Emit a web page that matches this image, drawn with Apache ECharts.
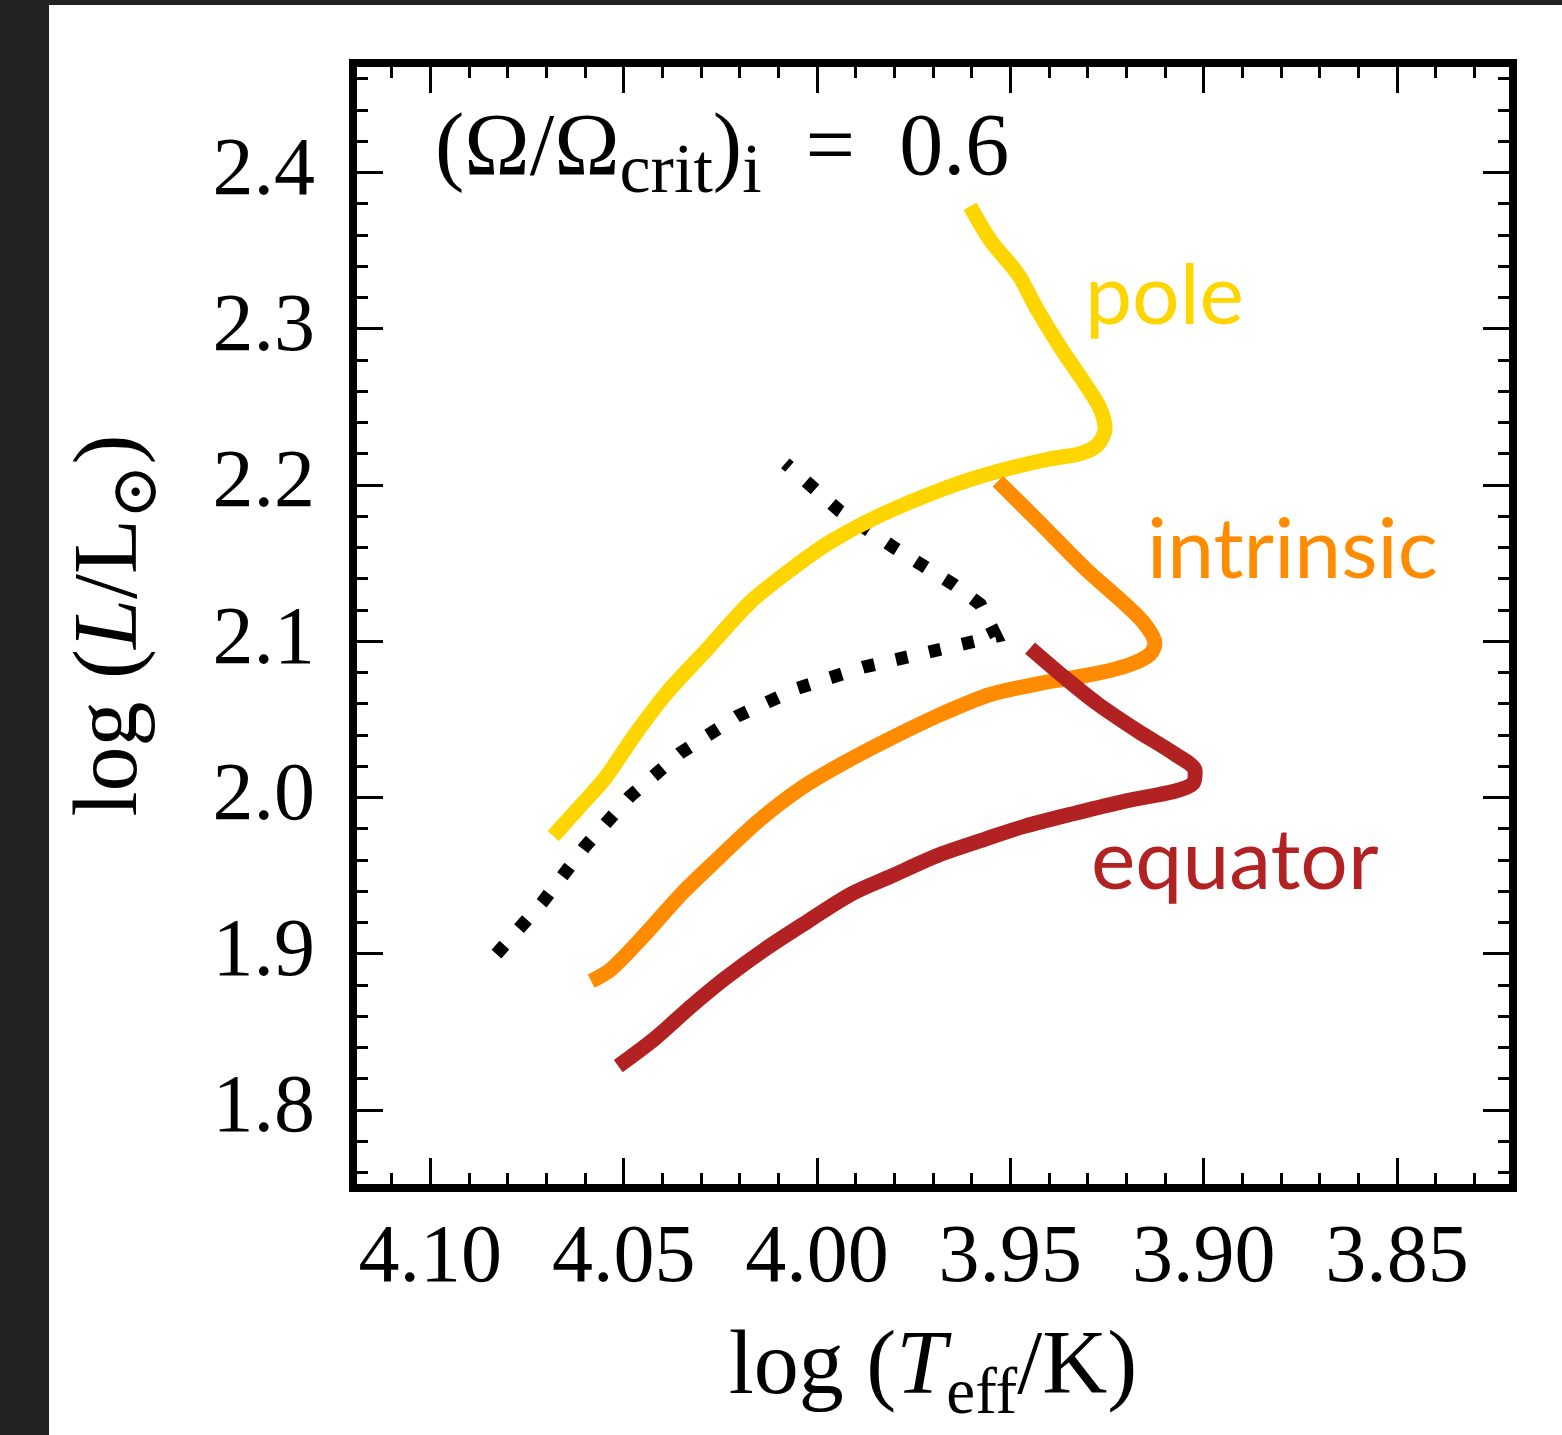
<!DOCTYPE html>
<html>
<head>
<meta charset="utf-8">
<title>HRD gravity darkening</title>
<script src="https://cdn.jsdelivr.net/npm/echarts@6.0.0/dist/echarts.min.js"></script>
<style>
  html, body { margin: 0; padding: 0; background: #222222; }
  #main { position: absolute; left: 49px; top: 5px; width: 1513px; height: 1430px; background: #ffffff; }
</style>
</head>
<body>
<div id="main"></div>
<script>
// tracks: [log Teff, log L]
var poleTrack = [
  [4.0682, 1.9752], [4.0617, 1.9931], [4.0548, 2.0123], [4.0470, 2.0404], [4.0385, 2.0679],
  [4.0289, 2.0935], [4.0170, 2.1255], [4.0056, 2.1479], [3.9963, 2.1639], [3.9842, 2.1799],
  [3.9669, 2.1978], [3.9532, 2.2087], [3.9402, 2.2164], [3.9317, 2.2202], [3.9273, 2.2260],
  [3.9255, 2.2362], [3.9268, 2.2490], [3.9299, 2.2618], [3.9369, 2.2874], [3.9428, 2.3111],
  [3.9480, 2.3347], [3.9550, 2.3559], [3.9604, 2.3782]
]
var intrinsicTrack = [
  [4.0584, 1.8824], [4.0532, 1.8901], [4.0444, 1.9125], [4.0351, 1.9381], [4.0263, 1.9592],
  [4.0152, 1.9848], [4.0041, 2.0059], [3.9937, 2.0212], [3.9808, 2.0379], [3.9679, 2.0532],
  [3.9550, 2.0660], [3.9420, 2.0731], [3.9273, 2.0795], [3.9188, 2.0852], [3.9139, 2.0916],
  [3.9126, 2.0987], [3.9152, 2.1108], [3.9203, 2.1236], [3.9307, 2.1466], [3.9420, 2.1748],
  [3.9532, 2.2023]
]
var equatorTrack = [
  [4.0514, 1.8280], [4.0418, 1.8459], [4.0325, 1.8664], [4.0237, 1.8843], [4.0134, 1.9029],
  [4.0023, 1.9208], [3.9912, 1.9381], [3.9808, 1.9496], [3.9679, 1.9637], [3.9565, 1.9733],
  [3.9462, 1.9816], [3.9332, 1.9899], [3.9203, 1.9976], [3.9074, 2.0040], [3.9027, 2.0091],
  [3.9022, 2.0168], [3.9074, 2.0276], [3.9170, 2.0424], [3.9273, 2.0596], [3.9358, 2.0763],
  [3.9449, 2.0955]
]
// dotted line (kink at the TAMS-like corner)
var dottedTrack = [
  [4.0829, 1.8997], [4.0710, 1.9329], [4.0599, 1.9688], [4.0483, 2.0008], [4.0354, 2.0283],
  [4.0206, 2.0520], [4.0049, 2.0699], [3.9881, 2.0833], [3.9713, 2.0929], [3.9537, 2.1031],
  [3.9578, 2.1236], [3.9648, 2.1364], [3.9798, 2.1594], [3.9940, 2.1831], [4.0082, 2.2138]
]

var trackNames = ['pole', 'intrinsic', 'equator']
var trackColors = ['#FFD500', '#FF8C00', '#B22222']

var xRange = [3.82, 4.12]
var yRange = [1.75, 2.47]

var serif = "'Liberation Serif', 'DejaVu Serif', serif"
var sans = "Lato, 'Open Sans', sans-serif"

// n = upright, i = italic, s = subscript (main tokens get bottom padding so the subscript sits lower)
function richStyles (size, subScale) {
  var lift = [0, 0, 14, 0]
  return {
    n: { fontFamily: serif, fontSize: size, padding: lift, verticalAlign: 'bottom', color: '#000' },
    i: { fontFamily: serif, fontSize: size, fontStyle: 'italic', padding: lift, verticalAlign: 'bottom', color: '#000' },
    s: { fontFamily: serif, fontSize: Math.round(size * (subScale || 0.72)), verticalAlign: 'bottom', color: '#000' }
  }
}

var tickStyle = { color: '#000', width: 3 }

function makeAxis (pos, range, split, extra) {
  var ax = {
    type: 'value',
    position: pos,
    min: range[0],
    max: range[1],
    splitNumber: split,
    axisLine: { show: false },
    axisTick: { show: true, inside: true, length: 30, lineStyle: tickStyle },
    minorTick: { show: true, splitNumber: 5, length: 15, lineStyle: tickStyle },
    splitLine: { show: false },
    minorSplitLine: { show: false },
    axisLabel: { show: false }
  }
  for (var k in extra) ax[k] = extra[k]
  return ax
}

var myChart = echarts.init(document.getElementById('main'))

var series = [{
  name: 'dotted',
  type: 'line',
  data: dottedTrack,
  showSymbol: false,
  z: 2,
  lineStyle: { color: '#000', width: 13, type: [12, 22], cap: 'butt', join: 'miter' }
}]
var tracks = [poleTrack, intrinsicTrack, equatorTrack]
for (var i = 0; i < tracks.length; i++) {
  series.push({
    name: trackNames[i],
    type: 'line',
    data: tracks[i],
    showSymbol: false,
    smooth: 0.3,
    z: 3 + i,
    lineStyle: { color: trackColors[i], width: 15 }
  })
}

var options = {
  animation: false,
  backgroundColor: '#fff',
  grid: {
    left: 304, top: 58, width: 1160, height: 1125,
    show: true, borderColor: '#000', borderWidth: 8, backgroundColor: 'transparent'
  },
  xAxis: [
    makeAxis('bottom', xRange, 6, {
      inverse: true,
      axisLabel: {
        show: true, margin: 30, color: '#000', fontFamily: serif, fontSize: 82,
        showMinLabel: false, showMaxLabel: false,
        formatter: function (v) { return v.toFixed(2) }
      },
      name: '{n|log (}{i|T}{s|eff}{n|/K)}',
      nameLocation: 'middle',
      nameGap: 136,
      nameTextStyle: { rich: richStyles(90) }
    }),
    makeAxis('top', xRange, 6, { inverse: true })
  ],
  yAxis: [
    makeAxis('left', yRange, 7, {
      axisLabel: {
        show: true, margin: 38, color: '#000', fontFamily: serif, fontSize: 82,
        showMinLabel: false, showMaxLabel: false,
        formatter: function (v) { return v.toFixed(1) }
      },
      name: '{n|log (}{i|L}{n|/L}{s|\u2299}{n|)}',
      nameLocation: 'middle',
      nameGap: 182,
      nameTextStyle: { rich: richStyles(90) }
    }),
    makeAxis('right', yRange, 7, {})
  ],
  graphic: [
    {
      type: 'text', left: 386, top: 102, z: 10,
      style: { text: '{n|(\u03A9/\u03A9}{s|crit}{n|)}{s|i}{n|\u2002=\u20020.6}', rich: richStyles(88, 0.8) }
    },
    { type: 'text', left: 1036, top: 250, z: 10, style: { text: trackNames[0], fill: trackColors[0], font: '84px ' + sans } },
    { type: 'text', left: 1098, top: 504, z: 10, style: { text: trackNames[1], fill: trackColors[1], font: '84px ' + sans } },
    { type: 'text', left: 1042, top: 815, z: 10, style: { text: trackNames[2], fill: trackColors[2], font: '84px ' + sans } }
  ],
  series: series
}

myChart.setOption(options)
</script>
</body>
</html>
